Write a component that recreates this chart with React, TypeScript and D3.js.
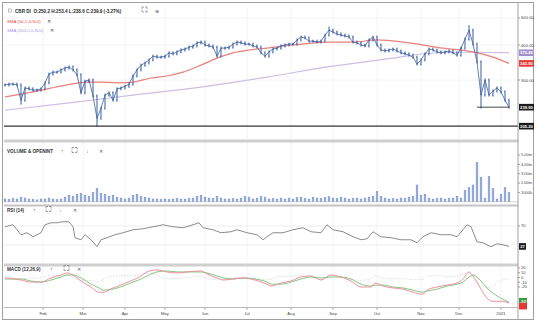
import React from "react";
import * as d3 from "d3";

const W = 536;
const H = 323;

// Daily closes sampled every 2 trading days (index i -> day 2i)
const closes = [
  288, 290, 290, 288, 254, 281, 279, 276, 276, 279,
  293, 315, 320, 320, 326, 331, 334, 326, 313, 270,
  297, 300, 263, 219, 238, 265, 270, 254, 279, 281,
  285, 290, 310, 326, 339, 345, 354, 365, 362, 362,
  365, 375, 372, 378, 384, 387, 393, 397, 407, 410,
  400, 397, 393, 365, 390, 390, 393, 403, 410, 407,
  403, 403, 397, 393, 375, 365, 378, 387, 390, 397,
  400, 403, 403, 417, 427, 424, 413, 413, 410, 413,
  434, 452, 445, 438, 434, 431, 427, 410, 407, 400,
  397, 417, 427, 400, 384, 381, 384, 387, 381, 375,
  372, 368, 362, 342, 354, 372, 387, 384, 378, 375,
  378, 381, 375, 368, 390, 420, 452, 403, 348, 265,
  300, 265, 274, 281, 272, 254, 239.9,
];
const wickIdx = [4, 23, 81, 116, 119];
const wickVal = [248, 207, 460, 466, 240];

const volumes = [
  0.3, 0.25, 0.35, 0.3, 0.5, 0.4, 0.3, 0.25, 0.2, 0.3,
  0.3, 0.4, 0.3, 0.25, 0.3, 0.5, 0.7, 0.6, 0.8, 0.9,
  0.7, 0.6, 1.0, 1.4, 0.9, 0.8, 0.6, 0.7, 0.5, 0.4,
  0.3, 0.4, 0.7, 0.8, 0.6, 0.5, 0.4, 0.3, 0.3, 0.25,
  0.3, 0.25, 0.3, 0.35, 0.3, 0.3, 0.35, 0.4, 0.6, 0.7,
  0.5, 0.4, 0.35, 0.6, 0.4, 0.3, 0.3, 0.35, 0.3, 0.4,
  0.6, 0.5, 0.3, 0.4, 0.6, 0.5, 0.3, 0.35, 0.3, 0.4,
  0.3, 0.4, 0.3, 0.45, 0.5, 0.35, 0.3, 0.5, 0.4, 0.35,
  0.45, 0.55, 0.4, 0.35, 0.5, 0.4, 0.3, 0.35, 0.4, 0.3,
  0.4, 0.5, 0.6, 1.1, 0.6, 0.4, 0.3, 0.35, 0.3, 0.4,
  0.35, 0.5, 0.6, 1.8, 0.7, 0.8, 0.4, 0.3, 0.35, 0.4,
  0.3, 0.35, 0.4, 0.6, 0.4, 1.2, 1.5, 1.8, 4.2, 2.6,
  0.4, 2.7, 1.4, 0.3, 0.8, 1.5, 1.0,
];

const sma50Days = [0, 14, 31, 41, 48, 56, 64, 73, 81, 89, 98, 106, 114, 122, 131, 144, 161, 174, 186, 202, 219, 234, 244, 252];
const sma50 = [261, 272, 288, 295, 295, 293, 295, 305, 310, 320, 339, 359, 375, 384, 390, 400, 410, 410, 417, 407, 390, 378, 362, 343.9];

const sma200Days = [0, 31, 64, 98, 131, 161, 194, 211, 228, 252];
const sma200 = [234, 248, 265, 283, 307, 334, 359, 373, 377, 375.45];

const rsiDays = [0, 4, 8, 11, 14, 18, 20, 23, 26, 29, 32, 34, 35, 38, 40, 43, 46, 48, 51, 55, 59, 64, 69, 74, 79, 84, 89, 94, 97, 99, 104, 108, 113, 116, 121, 126, 129, 131, 134, 139, 144, 149, 153, 158, 161, 164, 169, 174, 178, 181, 184, 188, 193, 198, 203, 206, 209, 213, 218, 223, 226, 229, 231, 233, 236, 239, 243, 246, 249, 252];
const rsi = [68.4, 72.6, 51.6, 55.8, 47.4, 55.8, 72.6, 76.8, 76.8, 78.9, 78.9, 68.4, 45.3, 41, 51.6, 41, 26.3, 41, 45.3, 51.6, 55.8, 62.1, 64.2, 68.4, 72.6, 68.4, 66.3, 72.6, 76.8, 66.3, 62.1, 55.8, 57.9, 62.1, 55.8, 51.6, 41, 47.4, 55.8, 55.8, 62.1, 66.3, 57.9, 55.8, 72.6, 62.1, 57.9, 47.4, 41, 43, 57.9, 47.4, 45.3, 41, 41, 34.7, 47.4, 55.8, 51.6, 51.6, 47.4, 62.1, 72.6, 68.4, 36.8, 34.7, 26.3, 32.6, 30.5, 27];

const macdDays = [0, 8, 13, 18, 23, 28, 31, 34, 38, 43, 47, 49, 54, 59, 64, 68, 71, 76, 81, 86, 91, 98, 101, 106, 109, 114, 119, 125, 131, 133, 138, 143, 148, 153, 158, 163, 168, 173, 178, 183, 185, 189, 194, 199, 204, 209, 211, 216, 221, 226, 229, 232, 234, 238, 241, 244, 248, 252];
const macd = [-1, -5.3, -9.6, -9.6, -1, 5.3, 9.6, 5.3, -7.4, -20, -31, -31, -22, -14, -5.3, 3.2, 11.7, 16, 11.7, 9.6, 11.7, 13.8, 7.4, -1, -5.3, -3.2, -1, -5.3, -14, -18, -11.7, -7.4, 1, 3.2, -5.3, 5.3, 1, -7.4, -20, -20, -11.7, -18, -22, -24.5, -31, -35, -26.6, -20, -16, -11.7, -3.2, 11.7, 3.2, -24.5, -43.6, -50, -50, -54];
const signal = [-3.2, -3.2, -7.4, -9.6, -5.3, 1, 5.3, 5.3, -1, -14, -22, -26.6, -24.5, -18, -9.6, -3.2, 3.2, 11.7, 13.8, 11.7, 11.7, 11.7, 9.6, 3.2, -1, -3.2, -1, -3.2, -9.6, -14, -14, -9.6, -3.2, 1, -1, 1, 1, -3.2, -14, -18, -16, -16, -20, -22, -26.6, -31, -28.7, -24.5, -18, -14, -9.6, 1, 5.3, -7.4, -22, -33, -43.6, -52];

const monthDays = [19, 39, 60, 80, 100, 121, 143, 164, 186, 208, 227, 248];
const monthLabels = ["Feb", "Mar", "Apr", "May", "Jun", "Jul", "Aug", "Sep", "Oct", "Nov", "Dec", "2021"];

const priceTicks = [500, 400, 300];
const volTicks = [5, 4, 3, 2, 1];
const volTickLabels = ["5.00m", "4.00m", "3.00m", "2.00m", "1000k"];
const rsiTicks = [70];
const macdTicks = [20, 10, 0, -10, -20];

const FONT = "Liberation Sans, Arial, sans-serif";

function ExpandIcon({ x, y }: { x: number; y: number }) {
  return (
    <path
      d={`M${x},${y + 1} v-2 h2 M${x + 3},${y - 1} h2 v2 M${x + 5},${y + 2} v2 h-2 M${x + 2},${y + 4} h-2 v-2`}
      stroke="#666"
      strokeWidth={0.6}
      fill="none"
      transform={`translate(0,-2)`}
    />
  );
}

function PanelTitle({ x, y, text, icons }: { x: number; y: number; text: string; icons: { x: number; t: string }[] }) {
  return (
    <g fontFamily={FONT} fontSize={4.6} fill="#333">
      <text x={x} y={y} fontWeight={700}>{text}</text>
      {icons.map((ic, i) =>
        ic.t === "box" ? (
          <ExpandIcon key={i} x={ic.x} y={y - 2} />
        ) : (
          <text key={i} x={ic.x} y={y} fontSize={5} fill="#555">{ic.t}</text>
        )
      )}
    </g>
  );
}

function Badge({ y, text, fill, color = "#fff", x = 519, w = 15 }: { y: number; text: string; fill: string; color?: string; x?: number; w?: number }) {
  return (
    <g>
      <rect x={x} y={y - 3.3} width={w} height={6.6} fill={fill} />
      <text x={x + w / 2} y={y + 1.5} textAnchor="middle" fontSize={4.2} fill={color} fontFamily={FONT} fontWeight={700}>
        {text}
      </text>
    </g>
  );
}

export default function App() {
  const xs = d3.scaleLinear().domain([0, 252]).range([5, 509]);
  const yP = d3.scaleLog().domain([300, 500]).range([80, 17.9]);
  const yV = d3.scaleLinear().domain([0, 5]).range([201.8, 155]);
  const yR = d3.scaleLinear().domain([30, 70]).range([245, 226]);
  const yM = d3.scaleLinear().domain([-20, 20]).range([287, 268]);
  const axisX = 518;

  const smaLine = (days: number[], vals: number[]) =>
    d3
      .line<number>()
      .x((_, i) => xs(days[i]))
      .y((v) => yP(v))
      .curve(d3.curveMonotoneX)(vals) || "";

  const closePath =
    d3
      .line<number>()
      .x((_, i) => xs(i * 2))
      .y((v) => yP(v))(closes) || "";

  const rsiPath =
    d3
      .line<number>()
      .x((_, i) => xs(rsiDays[i]))
      .y((v) => yR(v))(rsi) || "";

  const mLine = (vals: number[]) =>
    d3
      .line<number>()
      .x((_, i) => xs(macdDays[i]))
      .y((v) => yM(v))
      .curve(d3.curveMonotoneX)(vals) || "";
  const hist = macd.map((m, i) => m - signal[i]);

  const barColor = "#3b5ea3";

  return (
    <svg width={W} height={H} style={{ position: "absolute", left: 0, top: 0, background: "#fff" }}>
      <rect x={2.5} y={2.5} width={531} height={317} fill="#fff" stroke="#a0a0a0" strokeWidth={1} />

      {/* vertical grid */}
      {monthDays.map((d, i) => (
        <line key={i} x1={xs(d)} x2={xs(d)} y1={5} y2={307} stroke="#f1f1f1" strokeWidth={0.8} />
      ))}
      {/* price grid */}
      {priceTicks.map((p) => (
        <line key={p} x1={4} x2={axisX} y1={yP(p)} y2={yP(p)} stroke="#f1f1f1" strokeWidth={0.8} />
      ))}

      {/* SMA lines */}
      <path d={smaLine(sma200Days, sma200)} fill="none" stroke="#cdbde6" strokeWidth={1.2} />
      <path d={smaLine(sma50Days, sma50)} fill="none" stroke="#e98079" strokeWidth={1.2} />

      {/* price bars */}
      <path d={closePath} fill="none" stroke={barColor} strokeWidth={0.8} />
      <g stroke={barColor} strokeWidth={1}>
        {closes.map((c, i) => {
          const prev = i > 0 ? closes[i - 1] : c;
          let hi = Math.max(prev, c);
          let lo = Math.min(prev, c);
          const w = wickIdx.indexOf(i);
          if (w >= 0) {
            hi = Math.max(hi, wickVal[w]);
            lo = Math.min(lo, wickVal[w]);
          }
          const x = xs(i * 2);
          return (
            <g key={i}>
              <line x1={x} x2={x} y1={yP(hi) - 1.5} y2={yP(lo) + 1.5} />
              <line x1={x - 0.9} x2={x} y1={yP(prev)} y2={yP(prev)} strokeWidth={0.8} />
              <line x1={x} x2={x + 0.9} y1={yP(c)} y2={yP(c)} strokeWidth={0.8} />
            </g>
          );
        })}
      </g>

      {/* low line and last price line */}
      <line x1={4} x2={axisX} y1={yP(205.2)} y2={yP(205.2)} stroke="#333" strokeWidth={1.2} />
      <line x1={xs(236)} x2={xs(252)} y1={yP(239.9)} y2={yP(239.9)} stroke="#333" strokeWidth={0.9} />

      {/* header */}
      <g fontFamily={FONT} fontSize={4.6} fontWeight={700} fill="#2a2a2a">
        <rect x={8.5} y={9} width={3} height={3} fill="none" stroke="#888" strokeWidth={0.5} />
        <text x={15} y={12.5}>CBR DI&#160;&#160;O:250.2 H:253.4 L:238.6 C:239.9 (-3.27%)</text>
      </g>
      <ExpandIcon x={142} y={10} />
      <text x={155} y={12.5} fontSize={5} fill="#666" fontFamily={FONT}>⊕</text>
      <g fontFamily={FONT} fontSize={4.3}>
        <text x={7} y={23} fill="#e0453c">SMA (50,C,0,N,0)</text>
        <text x={47} y={23} fill="#444" fontSize={5}>✕</text>
        <text x={7} y={32} fill="#a894d4">SMA (200,C,0,N,0)</text>
        <text x={50} y={32} fill="#444" fontSize={5}>✕</text>
      </g>

      {/* price axis labels */}
      <g fontFamily={FONT} fontSize={4.2} fill="#444">
        {priceTicks.map((p) => (
          <g key={p}>
            <line x1={axisX} x2={axisX + 2} y1={yP(p)} y2={yP(p)} stroke="#666" strokeWidth={0.6} />
            <text x={axisX + 3} y={yP(p) + 1.5}>{p.toFixed(2)}</text>
          </g>
        ))}
      </g>
      <Badge y={yP(375.45)} text="375.45" fill="#a38fd0" />
      <Badge y={yP(343.9)} text="343.90" fill="#e53935" />
      <Badge y={yP(239.9)} text="239.90" fill="#1b1b1b" />
      <Badge y={yP(205.2)} text="205.20" fill="#1b1b1b" />

      {/* separators */}
      <rect x={4} y={139.5} width={axisX - 4} height={3} fill="#cfcfcf" />
      <rect x={4} y={204.5} width={axisX - 4} height={2} fill="#c4c4c4" />
      <rect x={4} y={263.5} width={axisX - 4} height={3} fill="#cfcfcf" />

      {/* volume */}
      <PanelTitle
        x={7}
        y={152.5}
        text="VOLUME & OPENINT"
        icons={[
          { x: 61, t: "↑" },
          { x: 72, t: "box" },
          { x: 86, t: "↓" },
          { x: 99, t: "✕" },
        ]}
      />
      <g>
        {volumes.map((v, i) => {
          const x = xs(i * 2);
          return (
            <rect
              key={i}
              x={x - 0.9}
              y={yV(v)}
              width={1.8}
              height={yV(0) - yV(v)}
              fill="#9bb0dc"
              stroke="#6a86c2"
              strokeWidth={0.4}
            />
          );
        })}
      </g>
      <line x1={4} x2={axisX} y1={yV(0)} y2={yV(0)} stroke="#bbb" strokeWidth={0.6} />
      <g fontFamily={FONT} fontSize={4} fill="#444">
        {volTicks.map((v, i) => (
          <g key={v}>
            <line x1={axisX} x2={axisX + 2} y1={yV(v)} y2={yV(v)} stroke="#666" strokeWidth={0.6} />
            <text x={axisX + 3} y={yV(v) + 1.4}>{volTickLabels[i]}</text>
          </g>
        ))}
      </g>

      {/* RSI */}
      <PanelTitle
        x={7}
        y={211.5}
        text="RSI (14)"
        icons={[
          { x: 33, t: "↑" },
          { x: 46, t: "box" },
          { x: 59, t: "↓" },
          { x: 73, t: "✕" },
        ]}
      />
      <line x1={4} x2={axisX} y1={yR(70)} y2={yR(70)} stroke="#e6e6e6" strokeWidth={0.7} />
      <line x1={4} x2={axisX} y1={yR(30)} y2={yR(30)} stroke="#e6e6e6" strokeWidth={0.7} />
      <path d={rsiPath} fill="none" stroke="#808080" strokeWidth={0.9} />
      <g fontFamily={FONT} fontSize={4} fill="#444">
        {rsiTicks.map((v) => (
          <g key={v}>
            <line x1={axisX} x2={axisX + 2} y1={yR(v)} y2={yR(v)} stroke="#666" strokeWidth={0.6} />
            <text x={axisX + 3} y={yR(v) + 1.4}>{v}</text>
          </g>
        ))}
      </g>
      <Badge y={yR(rsi[rsi.length - 1])} text={String(Math.round(rsi[rsi.length - 1]))} fill="#1b1b1b" w={7} />

      {/* MACD */}
      <PanelTitle
        x={7}
        y={270.5}
        text="MACD (12,26,9)"
        icons={[
          { x: 50, t: "↑" },
          { x: 64, t: "box" },
          { x: 77, t: "✕" },
        ]}
      />
      <path d={mLine(hist)} fill="none" stroke="#c9c9c9" strokeWidth={0.7} strokeDasharray="1.2 1.5" />
      <path d={mLine(signal)} fill="none" stroke="#74c274" strokeWidth={0.9} />
      <path d={mLine(macd)} fill="none" stroke="#ee8497" strokeWidth={0.9} />
      <g fontFamily={FONT} fontSize={4} fill="#444">
        {macdTicks.map((v) => (
          <g key={v}>
            <line x1={axisX} x2={axisX + 2} y1={yM(v)} y2={yM(v)} stroke="#666" strokeWidth={0.6} />
            <text x={axisX + 3} y={yM(v) + 1.4}>{v}</text>
          </g>
        ))}
      </g>
      <Badge y={yM(signal[signal.length - 1]) - 1} text={String(Math.round(signal[signal.length - 1]))} fill="#3d9b3d" w={8} />
      <Badge y={yM(macd[macd.length - 1]) + 3} text="" fill="#e53935" w={8} />

      {/* time axis */}
      <line x1={4} x2={axisX} y1={307.5} y2={307.5} stroke="#999" strokeWidth={0.7} />
      <g fontFamily={FONT} fontSize={4.2} fill="#444">
        {monthDays.map((d, i) => (
          <g key={i}>
            <line x1={xs(d)} x2={xs(d)} y1={307.5} y2={310} stroke="#777" strokeWidth={0.6} />
            <text x={xs(d)} y={315} textAnchor="middle">{monthLabels[i]}</text>
          </g>
        ))}
      </g>

      {/* right axis line */}
      <line x1={axisX} x2={axisX} y1={3} y2={319} stroke="#888" strokeWidth={0.8} />
    </svg>
  );
}
